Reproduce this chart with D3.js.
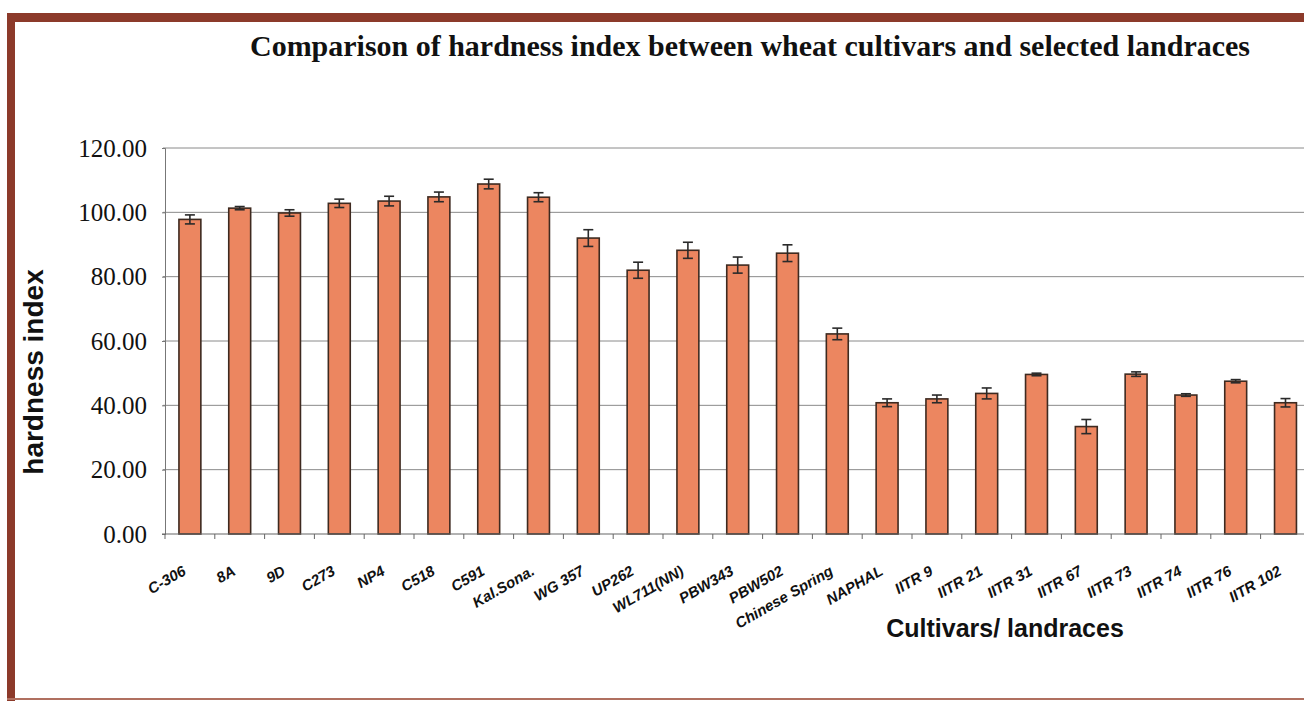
<!DOCTYPE html>
<html>
<head>
<meta charset="utf-8">
<script src="https://cdn.jsdelivr.net/npm/d3@7/dist/d3.min.js"></script>
<style>
  html, body { margin: 0; padding: 0; background: #ffffff; }
  svg { display: block; }
</style>
</head>
<body>
<svg id="chart" width="1304" height="701"></svg>
<script>
// Wheat cultivars and landraces, mean hardness index with error
const categories = ["C-306", "8A", "9D", "C273", "NP4", "C518", "C591", "Kal.Sona.",
  "WG 357", "UP262", "WL711(NN)", "PBW343", "PBW502", "Chinese Spring", "NAPHAL",
  "IITR 9", "IITR 21", "IITR 31", "IITR 67", "IITR 73", "IITR 74", "IITR 76", "IITR 102"];
const hardness = [97.8, 101.3, 99.8, 102.8, 103.5, 104.8, 108.8, 104.7,
  92.0, 82.0, 88.2, 83.6, 87.3, 62.2, 40.8,
  42.0, 43.7, 49.6, 33.4, 49.7, 43.2, 47.5, 40.8];
const errors = [1.4, 0.5, 1.0, 1.3, 1.5, 1.5, 1.5, 1.4,
  2.6, 2.5, 2.5, 2.5, 2.6, 1.8, 1.2,
  1.2, 1.7, 0.4, 2.2, 0.7, 0.4, 0.5, 1.3];
const yTicks = [0, 20, 40, 60, 80, 100, 120];

const titleText = "Comparison of hardness index between wheat cultivars and selected landraces";
const yTitle = "hardness index";
const xTitle = "Cultivars/ landraces";

const svg = d3.select("#chart");

// page frame
const frame = "#8c3a2a";
svg.append("rect").attr("x", 7).attr("y", 13).attr("width", 1297).attr("height", 9).attr("fill", frame);
svg.append("rect").attr("x", 7).attr("y", 13).attr("width", 8).attr("height", 688).attr("fill", frame);
svg.append("rect").attr("x", 7).attr("y", 698).attr("width", 1297).attr("height", 2).attr("fill", "#b07060");

// title
svg.append("text")
  .attr("x", 250).attr("y", 56)
  .attr("textLength", 1000).attr("lengthAdjust", "spacingAndGlyphs")
  .attr("font-family", "'Liberation Serif', 'Times New Roman', serif")
  .attr("font-weight", "bold").attr("font-size", 30)
  .attr("fill", "#111")
  .text(titleText);

const plotLeft = 165, plotTop = 148, plotBottom = 534;
const step = 49.8;
const x = d3.scaleBand()
  .domain(categories)
  .range([plotLeft, plotLeft + step * categories.length])
  .paddingInner(0.56)
  .paddingOuter(0.28);
const y = d3.scaleLinear().domain([0, 120]).range([plotBottom, plotTop]);

// gridlines
svg.append("g")
  .selectAll("line")
  .data(yTicks.filter(d => d > 0))
  .join("line")
  .attr("x1", plotLeft - 2).attr("x2", 1304)
  .attr("y1", d => y(d)).attr("y2", d => y(d))
  .attr("stroke", "#8a8a8a").attr("stroke-width", 1);

// y axis
const yAxis = d3.axisLeft(y).tickValues(yTicks).tickSize(3).tickPadding(15)
  .tickFormat(d3.format(".2f"));
const gy = svg.append("g").attr("transform", `translate(${plotLeft},0)`).call(yAxis);
gy.select(".domain").attr("stroke", "#777");
gy.selectAll(".tick line").attr("stroke", "#777");
gy.selectAll(".tick text")
  .attr("font-family", "'Liberation Serif', 'Times New Roman', serif")
  .attr("font-size", 25).attr("fill", "#111");

// bars
svg.append("g")
  .selectAll("rect")
  .data(categories)
  .join("rect")
  .attr("x", d => x(d))
  .attr("y", (d, i) => y(hardness[i]))
  .attr("width", x.bandwidth())
  .attr("height", (d, i) => plotBottom - y(hardness[i]))
  .attr("fill", "#ec8660")
  .attr("stroke", "#3e2a20").attr("stroke-width", 1.6);

// error bars
const eb = svg.append("g").attr("stroke", "#2a2a2a").attr("stroke-width", 1.6);
categories.forEach((c, i) => {
  const cx = x(c) + x.bandwidth() / 2;
  const hi = y(hardness[i] + errors[i]), lo = y(hardness[i] - errors[i]);
  eb.append("line").attr("x1", cx).attr("x2", cx).attr("y1", hi).attr("y2", lo);
  eb.append("line").attr("x1", cx - 5).attr("x2", cx + 5).attr("y1", hi).attr("y2", hi);
  eb.append("line").attr("x1", cx - 5).attr("x2", cx + 5).attr("y1", lo).attr("y2", lo);
});

// x axis line and category boundary ticks
const gx = svg.append("g");
gx.append("line").attr("x1", plotLeft - 3).attr("x2", 1304)
  .attr("y1", plotBottom).attr("y2", plotBottom)
  .attr("stroke", "#666").attr("stroke-width", 1.2);
gx.selectAll("line.tk")
  .data(d3.range(categories.length + 1))
  .join("line").attr("class", "tk")
  .attr("x1", k => plotLeft + k * x.step()).attr("x2", k => plotLeft + k * x.step())
  .attr("y1", plotBottom).attr("y2", plotBottom + 5)
  .attr("stroke", "#666");

// rotated category labels
gx.selectAll("text.cat")
  .data(categories)
  .join("text").attr("class", "cat")
  .attr("transform", d => `translate(${x(d) + x.bandwidth() / 2 - 3},${plotBottom + 40}) rotate(-30)`)
  .attr("text-anchor", "end")
  .attr("font-family", "'Liberation Sans', Arial, sans-serif")
  .attr("font-weight", "bold").attr("font-style", "italic")
  .attr("font-size", 15).attr("fill", "#111")
  .text(d => d);

// axis titles
svg.append("text")
  .attr("transform", "translate(43,372) rotate(-90)")
  .attr("text-anchor", "middle")
  .attr("font-family", "'Liberation Sans', Arial, sans-serif")
  .attr("font-weight", "bold").attr("font-size", 28).attr("fill", "#111")
  .text(yTitle);

svg.append("text")
  .attr("x", 1005).attr("y", 637)
  .attr("text-anchor", "middle")
  .attr("font-family", "'Liberation Sans', Arial, sans-serif")
  .attr("font-weight", "bold").attr("font-size", 25).attr("fill", "#111")
  .text(xTitle);
</script>
</body>
</html>
